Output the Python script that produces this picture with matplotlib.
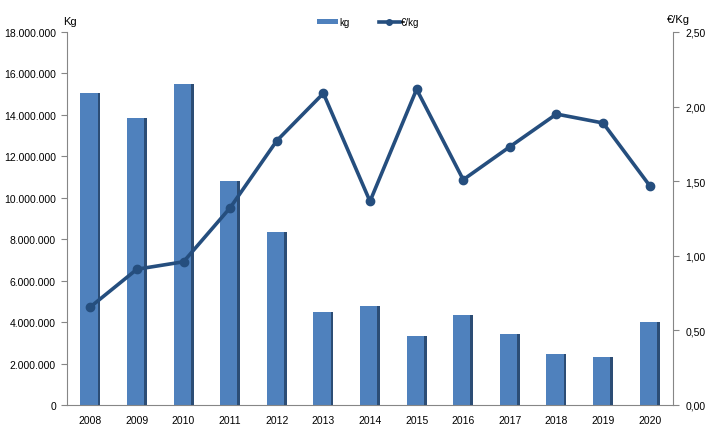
import matplotlib
matplotlib.use("Agg")
import matplotlib.pyplot as plt
from matplotlib.ticker import FuncFormatter, MultipleLocator
from matplotlib.lines import Line2D
from matplotlib.patches import Patch

years = ["2008", "2009", "2010", "2011", "2012", "2013", "2014",
         "2015", "2016", "2017", "2018", "2019", "2020"]
kg = [15050000, 13850000, 15500000, 10810000, 8350000, 4490000, 4790000,
      3310000, 4340000, 3440000, 2480000, 2330000, 4020000]
eur_per_kg = [0.657, 0.91, 0.96, 1.322, 1.771, 2.089, 1.365,
              2.116, 1.51, 1.731, 1.95, 1.89, 1.47]

plt.rcParams['font.family'] = ['Liberation Sans', 'DejaVu Sans']
FS = 7.5
BAR = '#4F81BD'
LINE = '#254E7E'
AX = '#868686'

fig = plt.figure(figsize=(7.18, 4.39), dpi=100)
ax = fig.add_axes([67/718, 33/439, (673-67)/718, (406-33)/439])
ax2 = ax.twinx()

x = list(range(len(years)))
ax.bar(x, kg, width=0.43, color=BAR, edgecolor='none', zorder=2)
# dark right-edge shading
ax.bar([i + 0.215 - 0.03 for i in x], kg, width=0.06, color='#2C4D75', edgecolor='none', zorder=3)

ax2.plot(x, eur_per_kg, color=LINE, lw=2.6, marker='o', ms=6, zorder=4)

ax.set_xlim(-0.5, len(years) - 0.5)
ax.set_ylim(0, 18000000)
ax2.set_ylim(0, 2.5)
ax.yaxis.set_major_locator(MultipleLocator(2000000))
ax2.yaxis.set_major_locator(MultipleLocator(0.5))
ax.yaxis.set_major_formatter(FuncFormatter(lambda v, p: f"{int(v):,}".replace(",", ".")))
ax2.yaxis.set_major_formatter(FuncFormatter(lambda v, p: f"{v:.2f}".replace(".", ",")))
ax.set_xticks(x)
ax.set_xticklabels(years)

for a in (ax, ax2):
    for s in a.spines.values():
        s.set_visible(False)
    a.tick_params(labelsize=FS, colors='black', length=4, width=0.8)
ax.spines['left'].set_visible(True)
ax.spines['left'].set_color(AX)
ax.spines['bottom'].set_visible(True)
ax.spines['bottom'].set_color(AX)
ax2.spines['right'].set_visible(True)
ax2.spines['right'].set_color(AX)
ax.tick_params(axis='y', color=AX, pad=4)
ax2.tick_params(axis='y', color=AX, pad=5)
ax.tick_params(axis='x', length=0, pad=7)

fig.text(63/718, 1 - 22/439, "Kg", fontsize=8, ha='left', va='center')
fig.text(667/718, 1 - 20/439, "€/Kg", fontsize=8, ha='left', va='center')

handles = [Patch(facecolor=BAR, edgecolor='none'),
           Line2D([0], [0], color=LINE, lw=2.6, marker='o', ms=4)]
fig.legend(handles, ["kg", "€/kg"], loc='center', bbox_to_anchor=(368/718, 1 - 23/439),
           ncol=2, frameon=False, fontsize=7, handlelength=2.2, handleheight=0.5,
           columnspacing=3.0, handletextpad=0.1)

fig.savefig("out.png", dpi=100)
